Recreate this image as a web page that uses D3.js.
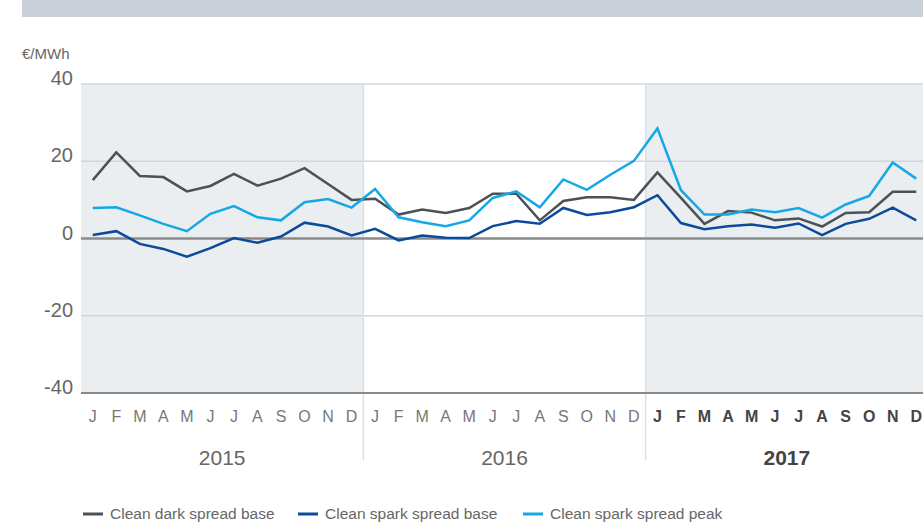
<!DOCTYPE html>
<html>
<head>
<meta charset="utf-8">
<script src="https://cdn.jsdelivr.net/npm/d3@7"></script>
<style>
  html, body { margin: 0; padding: 0; background: #fff; }
  svg { display: block; font-family: "Liberation Sans", Arial, sans-serif; }
</style>
</head>
<body>
<svg id="chart" width="923" height="523"></svg>
<script>
// Clean dark / spark spreads, monthly 2015–2017 (€/MWh)
const years = ["2015", "2016", "2017"];
const monthLetters = ["J", "F", "M", "A", "M", "J", "J", "A", "S", "O", "N", "D"];
const yTicks = [40, 20, 0, -20, -40];

const darkBase = [
  15.1, 22.3, 16.2, 15.9, 12.2, 13.6, 16.7, 13.7, 15.5, 18.2, 14.1, 10.0,
  10.3, 6.2, 7.5, 6.6, 7.9, 11.6, 11.6, 4.7, 9.7, 10.7, 10.7, 10.0,
  17.1, 10.5, 3.8, 7.1, 6.7, 4.7, 5.2, 3.1, 6.6, 6.8, 12.1, 12.1
];
const sparkBase = [
  0.9, 1.9, -1.4, -2.7, -4.7, -2.5, 0.1, -1.1, 0.5, 4.1, 3.1, 0.8,
  2.5, -0.5, 0.8, 0.2, 0.1, 3.2, 4.5, 3.8, 7.9, 6.1, 6.8, 8.1,
  11.2, 4.0, 2.4, 3.2, 3.6, 2.8, 3.9, 0.9, 3.8, 5.1, 8.0, 4.7
];
const sparkPeak = [
  7.9, 8.1, 6.0, 3.8, 1.9, 6.4, 8.4, 5.5, 4.7, 9.4, 10.2, 8.0,
  12.8, 5.5, 4.2, 3.2, 4.7, 10.5, 12.2, 8.1, 15.3, 12.6, 16.5, 20.1,
  28.5, 12.5, 6.2, 6.2, 7.5, 6.8, 7.9, 5.4, 8.8, 11.0, 19.7, 15.5
];

const series = [
  { name: "Clean dark spread base",  values: darkBase,  color: "#4b5155" },
  { name: "Clean spark spread base", values: sparkBase, color: "#0b4a9b" },
  { name: "Clean spark spread peak", values: sparkPeak, color: "#14a8e6" }
];

const svg = d3.select("#chart");
// right edge runs a little past the window, as in the source
const plotLeft = 81, plotRight = 928, plotTop = 84, plotBottom = 393;

const months = d3.range(years.length * 12);
const x = d3.scaleBand().domain(months).range([plotLeft, plotRight]);
const xYear = d3.scaleBand().domain(years).range([plotLeft, plotRight]);
const y = d3.scaleLinear().domain([-40, 40]).range([plotBottom, plotTop]);

// header bar
svg.append("rect").attr("x", 22).attr("y", 0).attr("width", 901).attr("height", 17)
  .attr("fill", "#c9d0d7");

// shaded years (2015, 2017)
svg.append("g").selectAll("rect")
  .data(years.filter((d, i) => i % 2 === 0))
  .join("rect")
  .attr("x", d => xYear(d))
  .attr("y", plotTop)
  .attr("width", xYear.bandwidth())
  .attr("height", plotBottom - plotTop)
  .attr("fill", "#ebeef1");

// horizontal grid
svg.append("g").selectAll("line")
  .data(yTicks.filter(d => d !== 0 && d !== -40))
  .join("line")
  .attr("x1", plotLeft).attr("x2", plotRight)
  .attr("y1", d => y(d)).attr("y2", d => y(d))
  .attr("stroke", "#d3d6d9").attr("stroke-width", 1.5);

// year separators
svg.append("g").selectAll("line")
  .data(years.slice(1))
  .join("line")
  .attr("x1", d => xYear(d)).attr("x2", d => xYear(d))
  .attr("y1", plotTop).attr("y2", 460)
  .attr("stroke", "#dcdfe2").attr("stroke-width", 1.5);

// zero + bottom baseline
svg.append("g").selectAll("line")
  .data([0, -40])
  .join("line")
  .attr("x1", plotLeft).attr("x2", plotRight)
  .attr("y1", d => y(d)).attr("y2", d => y(d))
  .attr("stroke", "#8a8a8a").attr("stroke-width", d => d === 0 ? 2.5 : 2);

// y tick labels
svg.append("g").selectAll("text")
  .data(yTicks)
  .join("text")
  .attr("x", 73).attr("y", d => y(d) + 1)
  .attr("text-anchor", "end")
  .attr("font-size", 20)
  .attr("fill", "#666")
  .text(d => d);

svg.append("text").attr("x", 22).attr("y", 59)
  .attr("font-size", 15).attr("fill", "#666").text("€/MWh");

// month labels
svg.append("g").selectAll("text")
  .data(months)
  .join("text")
  .attr("x", d => x(d) + x.bandwidth() / 2)
  .attr("y", 422)
  .attr("text-anchor", "middle")
  .attr("font-size", 16)
  .attr("font-weight", d => d >= 24 ? "bold" : "normal")
  .attr("fill", d => d >= 24 ? "#444" : "#777")
  .text(d => monthLetters[d % 12]);

// year labels
svg.append("g").selectAll("text")
  .data(years)
  .join("text")
  .attr("x", d => xYear(d) + xYear.bandwidth() / 2)
  .attr("y", 465)
  .attr("text-anchor", "middle")
  .attr("font-size", 21)
  .attr("font-weight", (d, i) => i === years.length - 1 ? "bold" : "normal")
  .attr("fill", (d, i) => i === years.length - 1 ? "#444" : "#666")
  .text(d => d);

// lines
const line = d3.line()
  .x((d, i) => x(i) + x.bandwidth() / 2)
  .y(d => y(d));

svg.append("g").selectAll("path")
  .data(series)
  .join("path")
  .attr("d", d => line(d.values))
  .attr("fill", "none")
  .attr("stroke", d => d.color)
  .attr("stroke-width", 2.5)
  .attr("stroke-linejoin", "miter");

// legend
const legendX = [83, 298, 523];
const lg = svg.append("g").selectAll("g")
  .data(series)
  .join("g")
  .attr("transform", (d, i) => `translate(${legendX[i]},514)`);
lg.append("line").attr("x1", 0).attr("x2", 20)
  .attr("stroke", d => d.color).attr("stroke-width", 3);
lg.append("text").attr("x", 27).attr("y", 5)
  .attr("font-size", 15.5).attr("fill", "#666")
  .text(d => d.name);
</script>
</body>
</html>
